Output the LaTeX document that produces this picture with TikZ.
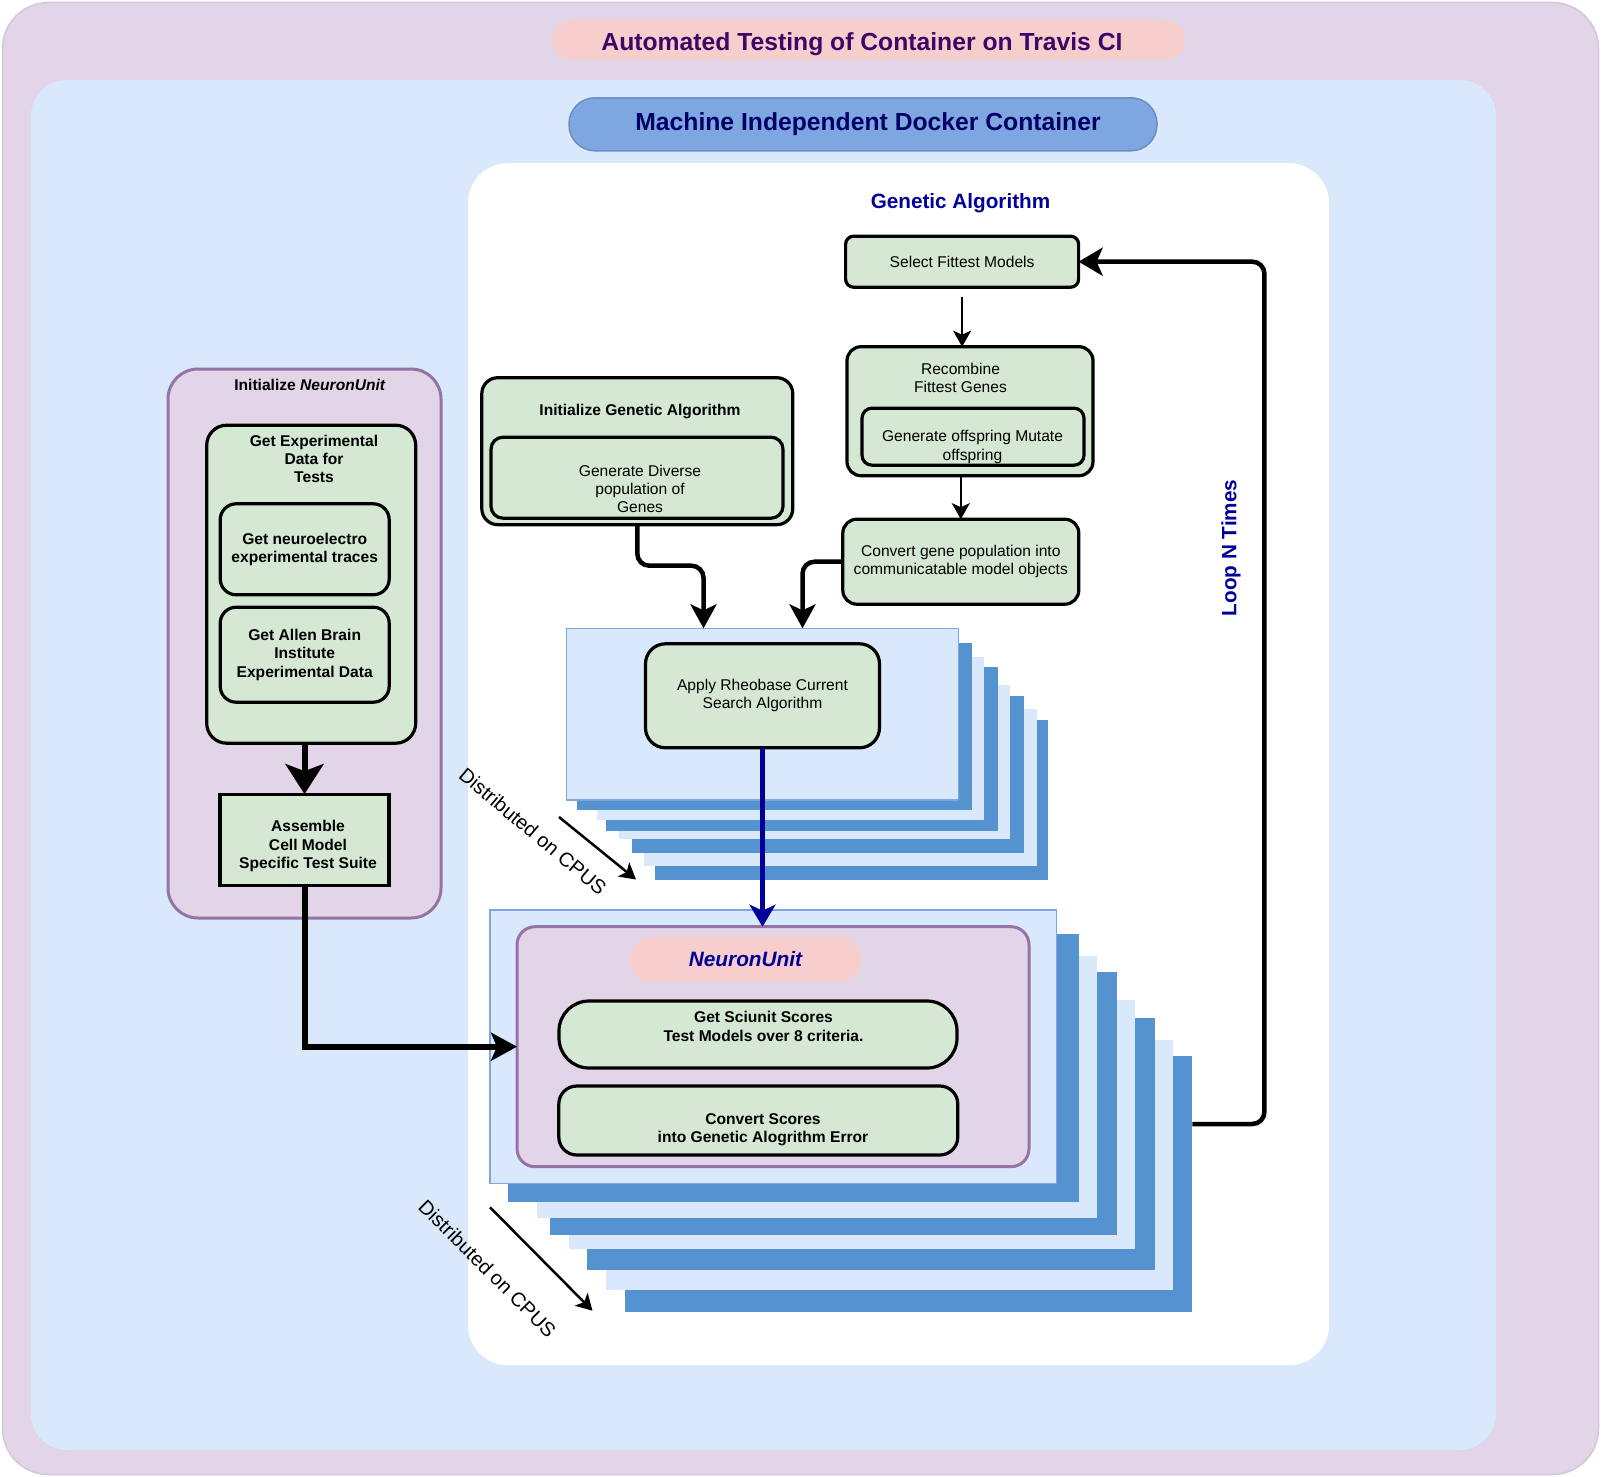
\documentclass[tikz,border=0pt]{standalone}
\usepackage{fontspec}
\setmainfont{Liberation Sans}
\usetikzlibrary{arrows.meta,calc}
\definecolor{purpfill}{HTML}{E1D5E7}
\definecolor{purpdraw}{HTML}{9673A6}
\definecolor{outerdraw}{HTML}{D4C6DC}
\definecolor{bluefill}{HTML}{DAE8FC}
\definecolor{pinkfill}{HTML}{F8CECC}
\definecolor{dockfill}{HTML}{7EA6E0}
\definecolor{dockdraw}{HTML}{6C8EBF}
\definecolor{gfill}{HTML}{D5E8D4}
\definecolor{sdark}{HTML}{5592D0}
\definecolor{sfront}{HTML}{7EA6E0}
\definecolor{navy}{HTML}{000099}
\definecolor{docktext}{HTML}{000066}
\definecolor{titlecol}{HTML}{3A0868}
\begin{document}
\begin{tikzpicture}[x=1pt,y=-1pt,
  base/.style={inner sep=0pt,outer sep=0pt},
  gbox/.style={base,draw=black,line width=3.2pt,fill=gfill,
    font=\fontsize{15.6}{18.3}\selectfont,align=center},
  pbox/.style={base,draw=purpdraw,line width=3pt,fill=purpfill},
  frontbox/.style={base,draw=sfront,line width=1.5pt,fill=bluefill},
  txt/.style={base,font=\fontsize{15.6}{18.3}\selectfont,align=center},
  txtb/.style={base,font=\bfseries\fontsize{15.6}{18.3}\selectfont,align=center},
  bigt/.style={base,font=\bfseries\fontsize{20.7}{24}\selectfont,text=navy},
  rott/.style={base,font=\fontsize{20}{23}\selectfont},
  thinarrow/.style={draw=black,line width=2.5pt,-{Stealth[length=16pt,width=18pt,inset=4pt]}},
  medarrow/.style={draw=black,line width=4.5pt,rounded corners=12pt,-{Stealth[length=24pt,width=26pt,inset=6pt]}},
  fatarrow/.style={draw=black,line width=6pt,-{Stealth[length=28pt,width=36pt,inset=7pt]}}
]
\useasboundingbox (0,0) rectangle (1601,1477);

% containers
\node[base,draw=outerdraw,line width=1.5pt,fill=purpfill,rounded corners=46pt,
  minimum width=1596pt,minimum height=1472pt] (outer) at (800.5,738.5) {};
\node[base,fill=bluefill,rounded corners=36pt,
  minimum width=1465pt,minimum height=1370pt] (docker) at (763.5,765) {};
\node[base,fill=pinkfill,rounded corners=20pt,minimum width=633pt,minimum height=40pt]
  (title) at (868.3,40) {};
\node[base,font=\bfseries\fontsize{24.7}{28}\selectfont,text=titlecol] (titletext)
  at (862,44.5) {Automated Testing of Container on Travis CI};
\node[base,fill=dockfill,draw=dockdraw,line width=1.5pt,rounded corners=26pt,
  minimum width=588pt,minimum height=53pt] (dock) at (863,124.3) {};
\node[base,font=\bfseries\fontsize{24.7}{28}\selectfont,text=docktext] (docktext)
  at (868,124.5) {Machine Independent Docker Container};
\node[base,fill=white,rounded corners=40pt,
  minimum width=861pt,minimum height=1202pt] (ga) at (898.5,764.2) {};
\node[bigt] (galabel) at (960.5,203.3) {Genetic Algorithm};

% genetic algorithm boxes
\node[gbox,rounded corners=8pt,minimum width=233pt,minimum height=51pt] (sel)
  at (962.1,261.7) {Select Fittest Models};
\node[gbox,rounded corners=14pt,minimum width=246pt,minimum height=129pt] (recomb)
  at (970,411.2) {};
\node[txt] (recombtext) at (960.5,378) {Recombine\\Fittest Genes};
\node[gbox,rounded corners=10pt,minimum width=222pt,minimum height=57pt] (genoff)
  at (973,436.7) {};
\node[txt] (genofftext) at (972.5,447) {Generate offspring Mutate\\offspring};
\node[gbox,rounded corners=14pt,minimum width=236pt,minimum height=85pt] (convgene)
  at (960.8,561.7) {Convert gene population into\\communicatable model objects};
\node[gbox,rounded corners=16pt,minimum width=311pt,minimum height=147pt] (initga)
  at (637.3,451.2) {};
\node[txtb] (initgatitle) at (640,411.7) {Initialize Genetic Algorithm};
\node[gbox,rounded corners=12pt,minimum width=292pt,minimum height=81pt] (gendiv)
  at (637,477.7) {};
\node[txt] (gendivtext) at (640,489) {Generate Diverse\\population of\\Genes};

% stack 1
\fill[sdark]    (655,720)     rectangle (1047.5,880);
\fill[bluefill] (644,709)     rectangle (1036.7,865.7);
\fill[sdark]    (631.7,695.7) rectangle (1023.7,853.3);
\fill[bluefill] (619,685)     rectangle (1010.3,839.3);
\fill[sdark]    (605.7,666.7) rectangle (997.7,830.7);
\fill[bluefill] (597.3,656.7) rectangle (984.3,820);
\fill[sdark]    (576.7,643.3) rectangle (971.7,810);
\node[frontbox,minimum width=391.6pt,minimum height=171.7pt] (s1) at (762.5,714.2) {};
\node[gbox,rounded corners=20pt,minimum width=234pt,minimum height=104pt] (rheo)
  at (762.5,695.8) {Apply Rheobase Current\\Search Algorithm};

% stack 2
\fill[sdark]    (625,1055.7)  rectangle (1192.4,1312.3);
\fill[bluefill] (605.5,1040)  rectangle (1173,1290);
\fill[sdark]    (587,1017.7)  rectangle (1154.7,1270);
\fill[bluefill] (569,1000)    rectangle (1134.8,1249.3);
\fill[sdark]    (550,971.7)   rectangle (1116.5,1235);
\fill[bluefill] (537,955.7)   rectangle (1097.2,1217.7);
\fill[sdark]    (508.3,934)   rectangle (1078.9,1201.7);
\node[frontbox,minimum width=566.4pt,minimum height=273.3pt] (s2) at (773.2,1046.7) {};
\node[pbox,rounded corners=18pt,minimum width=512pt,minimum height=240pt] (nu)
  at (773,1046.7) {};
\node[base,fill=pinkfill,rounded corners=22pt,minimum width=231pt,minimum height=45pt,
  font=\bfseries\itshape\fontsize{20.8}{24}\selectfont,text=navy] (nulabel)
  at (745.5,959.2) {NeuronUnit};
\node[gbox,rounded corners=30pt,minimum width=398pt,minimum height=67pt] (sci)
  at (758,1034.5) {};
\node[txtb] (scitext) at (763.5,1026.5) {Get Sciunit Scores\\Test Models over 8 criteria.};
\node[gbox,rounded corners=18pt,minimum width=399pt,minimum height=69pt] (cs)
  at (758.3,1120.5) {};
\node[txtb] (cstext) at (763,1129.8) {Convert Scores\\into Genetic Alogrithm Error};

% initialize NeuronUnit
\node[pbox,rounded corners=30pt,minimum width=273pt,minimum height=549pt] (inu)
  at (304.5,643.5) {};
\node[txtb] (inutitle) at (310,385) {Initialize \textit{NeuronUnit}};
\node[gbox,rounded corners=20pt,minimum width=209pt,minimum height=318pt] (getexp)
  at (311.2,584.2) {};
\node[txtb] (getexptitle) at (314,458.8) {Get Experimental\\Data for\\Tests};
\node[gbox,font=\bfseries\fontsize{15.6}{18.3}\selectfont,rounded corners=16pt,
  minimum width=169pt,minimum height=91pt] (neuro)
  at (304.7,549.3) {Get neuroelectro\\experimental traces};
\node[gbox,font=\bfseries\fontsize{15.6}{18.3}\selectfont,rounded corners=16pt,
  minimum width=169pt,minimum height=95pt] (allen)
  at (304.7,654.7) {Get Allen Brain\\Institute\\Experimental Data};
\node[gbox,minimum width=169pt,minimum height=91pt] (asm) at (304.5,839.6) {};
\node[txtb] (asmtext) at (308,846) {Assemble\\Cell Model\\Specific Test Suite};

% labels
\node[bigt,rotate=90] (looplabel) at (1231,548) {Loop N Times};
\node[rott,rotate=-40] (dist1) at (533,831.5) {Distributed on CPUS};
\node[rott,rotate=-45] (dist2) at (487.5,1268.5) {Distributed on CPUS};
\coordinate (d1s) at (559,817);
\coordinate (d1e) at (636,879.5);
\coordinate (d2s) at (490,1207.3);
\coordinate (d2e) at (592.5,1310.7);
\coordinate (loopstart) at (1192.4,1124);

% connectors
\draw[thinarrow] ([yshift=-10pt]sel.south) -- (sel.south |- recomb.north);
\draw[thinarrow] (convgene.north |- recomb.south) -- (convgene.north);
\draw[medarrow] (initga.south) -- ++(0,41) -| ([xshift=-59pt]s1.north);
\draw[medarrow] (convgene.west) -| ([xshift=40pt]s1.north);
\draw[draw=navy,line width=5.5pt,-{Stealth[length=22pt,width=26pt,inset=6pt]}]
  (rheo.south) -- (rheo.south |- nu.north);
\draw[medarrow,-{Stealth[length=24pt,width=28pt,inset=6pt]}]
  (loopstart) -- ++(72,0) |- (sel.east);
\draw[fatarrow,-{Stealth[length=30pt,width=38pt,inset=7pt]}]
  (asm.north |- getexp.south) -- (asm.north);
\draw[fatarrow,-{Stealth[length=26pt,width=28pt,inset=6pt]}]
  (asm.south) |- (nu.west);
\draw[thinarrow] (d1s) -- (d1e);
\draw[thinarrow] (d2s) -- (d2e);
\end{tikzpicture}
\end{document}
